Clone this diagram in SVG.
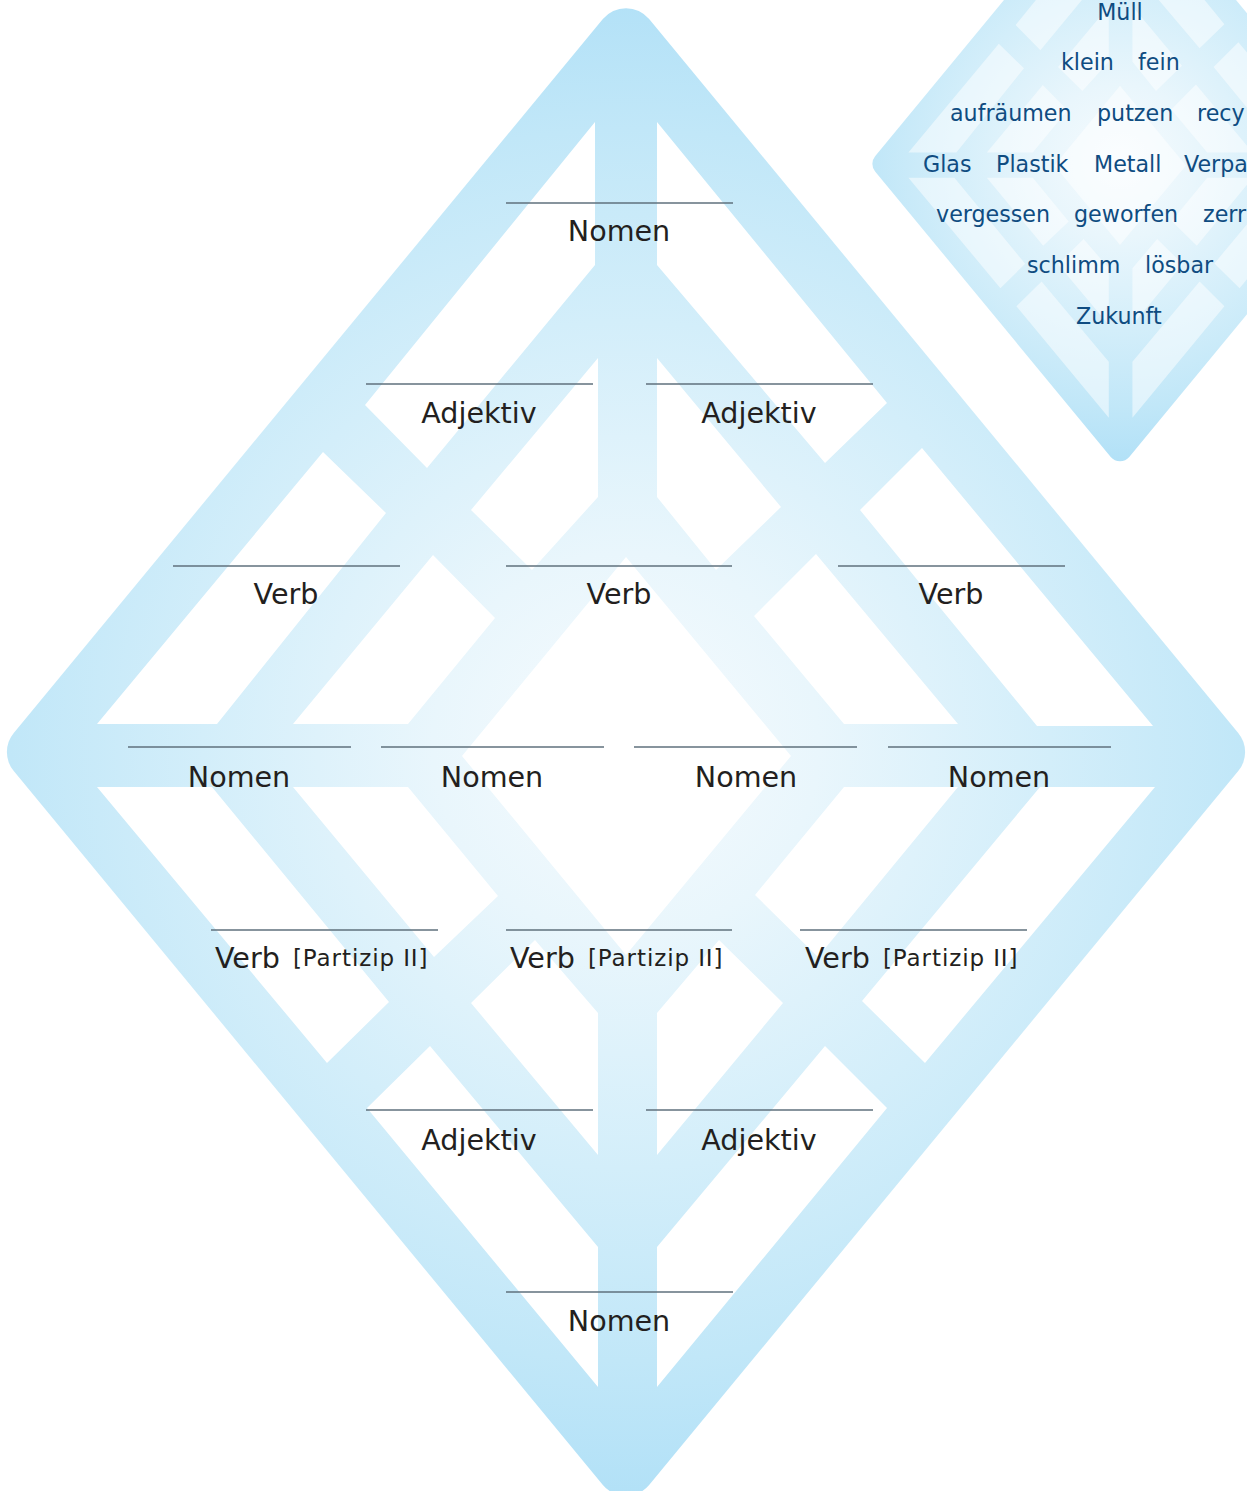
<svg xmlns="http://www.w3.org/2000/svg" xmlns:xlink="http://www.w3.org/1999/xlink" width="1247" height="1491" viewBox="0 0 1247 1491">
<style>
.ln{stroke:#5f717c;stroke-width:1.5;fill:none}
.lbl{font-family:"DejaVu Sans",Verdana,sans-serif;font-size:28.6px;fill:#231f20;text-anchor:middle}
.st{text-anchor:start}
.sub{font-size:23px;letter-spacing:0.9px}
.wb{font-family:"DejaVu Sans",Verdana,sans-serif;font-size:22.2px;fill:#0f4c81}
</style>
<defs>
<radialGradient id="g" gradientUnits="userSpaceOnUse" cx="626" cy="745" r="770">
<stop offset="0" stop-color="#f6fbfe"/>
<stop offset="0.25" stop-color="#e9f6fc"/>
<stop offset="0.55" stop-color="#d3eefa"/>
<stop offset="0.8" stop-color="#c1e7f8"/>
<stop offset="1" stop-color="#b0e0f7"/>
</radialGradient>
<path id="outer" d="M602.86,19.04 A30,30 0 0 1 649.14,19.04 L1238.24,732.9 A30,30 0 0 1 1238.24,771.1 L649.14,1484.96 A30,30 0 0 1 602.86,1484.96 L13.76,771.1 A30,30 0 0 1 13.76,732.9 Z"/>
<path id="holes" d="M595,122 L595,265 L427,468 L365,405 Z
M657,122 L657,265 L825,463 L887,403 Z
M323,452 L386,513 L217,724 L97,724 Z
M922,448 L860,510 L1037,726 L1153,726 Z
M433,555 L495,618 L408,724 L293,724 Z
M816,554 L754,616 L844,724 L958,724 Z
M598,358 L598,497 L532,570 L471,510 Z
M657,358 L657,497 L716,570 L781,507 Z
M626,557 L462,756 L626,955 L791,756 Z
M97,787 L212,787 L389,1002 L327,1063 Z
M293,787 L408,787 L498,896 L434,957 Z
M535,940 L471,1003 L598,1155 L598,1013 Z
M367,1108 L430,1046 L598,1247 L598,1387 Z
M657,1387 L657,1247 L825,1046 L887,1108 Z
M657,1013 L657,1155 L783,1003 L719,940 Z
M958,787 L844,787 L755,895 L818,957 Z
M1155,787 L1040,787 L862,1001 L925,1063 Z"/>
</defs>
<rect width="1247" height="1491" fill="#ffffff"/>
<g id="lattice">
<use xlink:href="#outer" href="#outer" fill="url(#g)"/>
<use xlink:href="#holes" href="#holes" fill="#ffffff"/>
</g>
<g id="connectors"/>
<g id="slot-nomen-top"><line class="ln" x1="506" y1="203" x2="733" y2="203"/><text class="lbl" x="619" y="241">Nomen</text></g>
<g id="slot-adj-1"><line class="ln" x1="366" y1="384" x2="593" y2="384"/><text class="lbl" x="479" y="423">Adjektiv</text></g>
<g id="slot-adj-2"><line class="ln" x1="646" y1="384" x2="873" y2="384"/><text class="lbl" x="759" y="423">Adjektiv</text></g>
<g id="slot-verb-1"><line class="ln" x1="173" y1="566" x2="400" y2="566"/><text class="lbl" x="286" y="604">Verb</text></g>
<g id="slot-verb-2"><line class="ln" x1="506" y1="566" x2="732" y2="566"/><text class="lbl" x="619" y="604">Verb</text></g>
<g id="slot-verb-3"><line class="ln" x1="838" y1="566" x2="1065" y2="566"/><text class="lbl" x="951" y="604">Verb</text></g>
<g id="slot-nomen-1"><line class="ln" x1="128" y1="747" x2="351" y2="747"/><text class="lbl" x="239" y="787">Nomen</text></g>
<g id="slot-nomen-2"><line class="ln" x1="381" y1="747" x2="604" y2="747"/><text class="lbl" x="492" y="787">Nomen</text></g>
<g id="slot-nomen-3"><line class="ln" x1="634" y1="747" x2="857" y2="747"/><text class="lbl" x="746" y="787">Nomen</text></g>
<g id="slot-nomen-4"><line class="ln" x1="888" y1="747" x2="1111" y2="747"/><text class="lbl" x="999" y="787">Nomen</text></g>
<g id="slot-part-1"><line class="ln" x1="211" y1="930" x2="438" y2="930"/><text class="lbl st" x="215" y="968">Verb<tspan class="sub" x="293" y="966">[Partizip II]</tspan></text></g>
<g id="slot-part-2"><line class="ln" x1="506" y1="930" x2="732" y2="930"/><text class="lbl st" x="510" y="968">Verb<tspan class="sub" x="588" y="966">[Partizip II]</tspan></text></g>
<g id="slot-part-3"><line class="ln" x1="800" y1="930" x2="1027" y2="930"/><text class="lbl st" x="805" y="968">Verb<tspan class="sub" x="883" y="966">[Partizip II]</tspan></text></g>
<g id="slot-adj-3"><line class="ln" x1="366" y1="1110" x2="593" y2="1110"/><text class="lbl" x="479" y="1150">Adjektiv</text></g>
<g id="slot-adj-4"><line class="ln" x1="646" y1="1110" x2="873" y2="1110"/><text class="lbl" x="759" y="1150">Adjektiv</text></g>
<g id="slot-nomen-bottom"><line class="ln" x1="506" y1="1292" x2="733" y2="1292"/><text class="lbl" x="619" y="1331">Nomen</text></g>
<g id="wordbank">
<g transform="matrix(0.4 0 0 0.4 869.6 -137)">
<use xlink:href="#outer" href="#outer" fill="url(#g)"/>
<use xlink:href="#holes" href="#holes" fill="#ffffff" fill-opacity="0.5"/>
</g>
<text class="wb" x="1120" y="20" text-anchor="middle">Müll</text>
<text class="wb" x="1061" y="70">klein</text>
<text class="wb" x="1138" y="70">fein</text>
<text class="wb" x="950" y="121">aufräumen</text>
<text class="wb" x="1097" y="121">putzen</text>
<text class="wb" x="1197" y="121">recy</text>
<text class="wb" x="923" y="172">Glas</text>
<text class="wb" x="996" y="172">Plastik</text>
<text class="wb" x="1094" y="172">Metall</text>
<text class="wb" x="1184" y="172">Verpa</text>
<text class="wb" x="936" y="222">vergessen</text>
<text class="wb" x="1074" y="222">geworfen</text>
<text class="wb" x="1203" y="222">zerr</text>
<text class="wb" x="1027" y="273">schlimm</text>
<text class="wb" x="1145" y="273">lösbar</text>
<text class="wb" x="1076" y="324">Zukunft</text>
</g>
</svg>
